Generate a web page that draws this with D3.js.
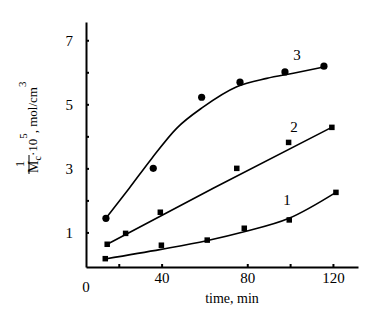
<!DOCTYPE html>
<html>
<head>
<meta charset="UTF-8">
<title>1/Mc vs time</title>
<script src="https://d3js.org/d3.v7.min.js"></script>
<style>
  body { margin: 0; background: #fff; }
</style>
</head>
<body>
<div class="canvas"></div>
<script>
  const width = 374
  const height = 317
  const serif = '"Liberation Serif", serif'

  // measured points (time, 1/Mc * 10^5)
  const s1Time = [13.7, 39.9, 61.3, 78.6, 99.6, 121.4]
  const s1Val  = [0.18, 0.60, 0.76, 1.13, 1.39, 2.25]
  const s2Time = [14.6, 23.2, 39.4, 75.1, 99.3, 119.5]
  const s2Val  = [0.63, 0.97, 1.63, 3.00, 3.81, 4.28]
  const s3Time = [14.0, 36.1, 58.7, 76.6, 97.6, 115.8]
  const s3Val  = [1.44, 3.00, 5.22, 5.69, 6.01, 6.19]

  // hand-drawn fitted curves
  const f1Time = [13.6, 39.7, 61.0, 78.5, 99.5, 121.4]
  const f1Val  = [0.17, 0.47, 0.74, 1.02, 1.44, 2.25]
  const f2Time = [14.6, 64.1, 119.4]
  const f2Val  = [0.63, 2.38, 4.28]
  const f3Time = [14.0, 24.9, 35.4, 47.0, 59.5, 75.1, 89.1, 101.5, 116.3]
  const f3Val  = [1.44, 2.38, 3.31, 4.25, 4.92, 5.55, 5.81, 5.97, 6.17]

  const xTicks = [20, 40, 80, 100, 120]
  const xLabels = [40, 80, 120]
  const yTicks = [1, 2, 3, 4, 5, 6, 7]
  const yLabels = [1, 3, 5, 7]
  const curveNames = ['1', '2', '3']

  const zip = (t, v) => t.map((d, i) => [d, v[i]])

  const svg = d3.select('.canvas')
    .append('svg')
    .attr('width', width)
    .attr('height', height)
    .style('font-family', serif)

  const x = d3.scaleLinear().domain([4.7, 131.7]).range([86, 358])
  const y = d3.scaleLinear().domain([-0.08, 7.57]).range([267, 22])

  const xAxis = d3.axisBottom(x)
    .tickValues(xTicks)
    .tickSize(-3)
    .tickSizeOuter(0)
    .tickPadding(5)
    .tickFormat(d => xLabels.includes(d) ? d : '')

  const yAxis = d3.axisLeft(y)
    .tickValues(yTicks)
    .tickSize(-3)
    .tickSizeOuter(0)
    .tickPadding(13)
    .tickFormat(d => yLabels.includes(d) ? d : '')

  svg.append('g')
    .attr('transform', `translate(0, ${y.range()[0]})`)
    .call(xAxis)
  svg.append('g')
    .attr('transform', `translate(${x.range()[0]}, 0)`)
    .call(yAxis)

  svg.selectAll('.domain').attr('stroke-width', 2).attr('stroke', '#000')
  svg.selectAll('.tick line').attr('stroke-width', 2).attr('stroke', '#000')
  svg.selectAll('.tick text')
    .attr('fill', '#000')
    .style('font-family', serif)
    .style('font-size', '15px')

  // origin label
  svg.append('text')
    .attr('x', x.range()[0])
    .attr('y', 292)
    .attr('text-anchor', 'middle')
    .style('font-size', '15px')
    .text('0')

  // x title
  svg.append('text')
    .attr('x', 232)
    .attr('y', 303)
    .attr('text-anchor', 'middle')
    .style('font-size', '14px')
    .text('time, min')

  // y title, rotated as one group
  const yt = svg.append('g')
    .attr('transform', 'translate(0, 0) rotate(-90)')
  yt.append('text').attr('x', -164).attr('y', 24)
    .attr('text-anchor', 'middle').style('font-size', '13px').text('1')
  yt.append('line')
    .attr('x1', -174).attr('x2', -155).attr('y1', 29).attr('y2', 29)
    .attr('stroke', '#000').attr('stroke-width', 1)
  const yLab = yt.append('text').attr('x', -173).attr('y', 38)
    .style('font-size', '14px')
  yLab.append('tspan').text('M')
  yLab.append('tspan').attr('dy', 3).style('font-size', '10px').text('c')
  yLab.append('tspan').attr('dy', -4).style('font-size', '13px').text('·10')
  yLab.append('tspan').attr('dy', -10).style('font-size', '11px').text('5')
  yLab.append('tspan').attr('dy', 10).style('font-size', '13px').text(', mol/cm')
  yLab.append('tspan').attr('dy', -11).style('font-size', '11px').text('3')

  // curves
  const line = d3.line()
    .x(d => x(d[0]))
    .y(d => y(d[1]))
    .curve(d3.curveMonotoneX)

  const fits = [zip(f1Time, f1Val), zip(f2Time, f2Val), zip(f3Time, f3Val)]
  svg.selectAll('path.fit')
    .data(fits)
    .enter()
    .append('path')
    .attr('class', 'fit')
    .attr('fill', 'none')
    .attr('stroke', '#000')
    .attr('stroke-width', 1.6)
    .attr('d', d => line(d))

  // markers
  const sq = 5.5
  const squares = zip(s1Time, s1Val).concat(zip(s2Time, s2Val))
  svg.selectAll('rect.pt')
    .data(squares)
    .enter()
    .append('rect')
    .attr('class', 'pt')
    .attr('x', d => x(d[0]) - sq / 2)
    .attr('y', d => y(d[1]) - sq / 2)
    .attr('width', sq)
    .attr('height', sq)
    .attr('fill', '#000')

  svg.selectAll('circle.pt')
    .data(zip(s3Time, s3Val))
    .enter()
    .append('circle')
    .attr('class', 'pt')
    .attr('cx', d => x(d[0]))
    .attr('cy', d => y(d[1]))
    .attr('r', 3.6)
    .attr('fill', '#000')

  // curve numbers
  const labelAt = [[98.5, 1.86], [101.8, 4.14], [103.2, 6.38]]
  svg.selectAll('text.cname')
    .data(curveNames)
    .enter()
    .append('text')
    .attr('class', 'cname')
    .attr('x', (d, i) => x(labelAt[i][0]))
    .attr('y', (d, i) => y(labelAt[i][1]))
    .attr('text-anchor', 'middle')
    .style('font-size', '15px')
    .text(d => d)
</script>
</body>
</html>
